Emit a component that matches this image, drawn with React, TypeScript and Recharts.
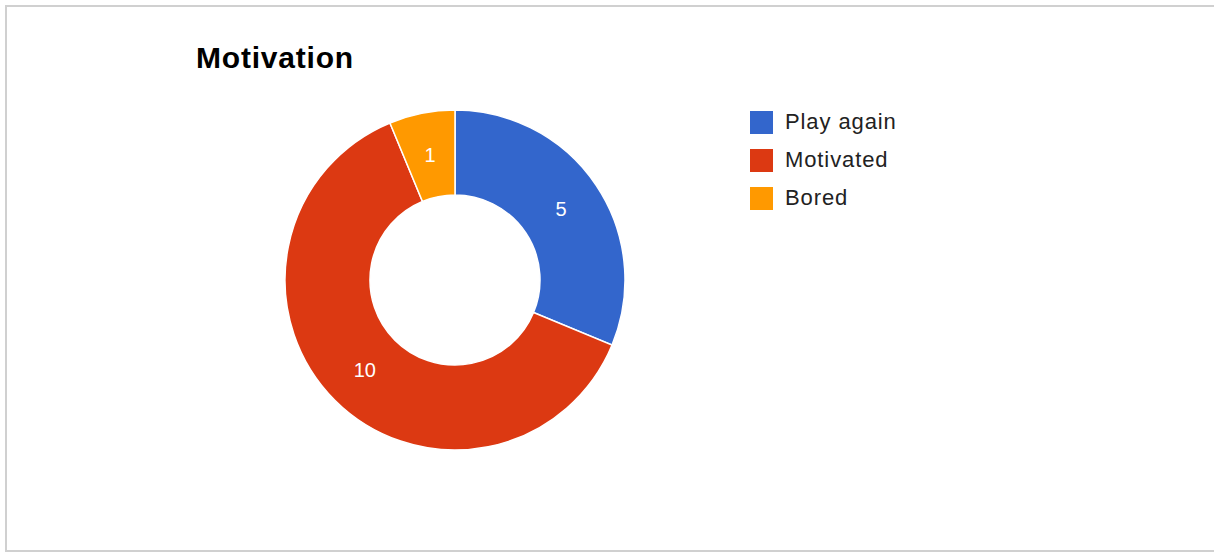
import React from 'react';
import { PieChart, Pie, Cell, Legend } from 'recharts';

const categories = ['Play again', 'Motivated', 'Bored'];
const values = [5, 10, 1];
const colors = ['#3366cc', '#dc3912', '#ff9900'];

const data = categories.map((name, i) => ({ name, value: values[i] }));

const RADIAN = Math.PI / 180;
const FONT = '"Liberation Sans", Arial, sans-serif';

const renderLabel = (props: any) => {
  const { cx, cy, midAngle, innerRadius, outerRadius, value } = props;
  const r = (innerRadius + outerRadius) / 2;
  const x = cx + r * Math.cos(-midAngle * RADIAN);
  const y = cy + r * Math.sin(-midAngle * RADIAN);
  return (
    <text x={x} y={y} fill="#ffffff" textAnchor="middle" dominantBaseline="central" fontSize={20} fontFamily={FONT}>
      {value}
    </text>
  );
};

const renderLegend = () => (
  <div style={{ fontFamily: FONT, fontSize: 22, color: '#222', letterSpacing: 0.9 }}>
    {categories.map((c, i) => (
      <div key={c} style={{ display: 'flex', alignItems: 'center', height: 38 }}>
        <div style={{ width: 23, height: 23, background: colors[i], marginRight: 12 }} />
        <span>{c}</span>
      </div>
    ))}
  </div>
);

export default function App() {
  return (
    <div style={{ position: 'absolute', left: 0, top: 0, width: 1214, height: 553, background: '#fff', overflow: 'hidden' }}>
      <div style={{ position: 'absolute', left: 5, top: 5, width: 1230, height: 543, border: '2px solid #d0d0d0', boxSizing: 'content-box' }} />
      <div style={{ position: 'absolute', left: 196, top: 40, fontFamily: FONT, fontWeight: 'bold', fontSize: 30, letterSpacing: 0.8, color: '#000', lineHeight: '36px' }}>
        Motivation
      </div>
      <div style={{ position: 'absolute', left: 0, top: 0 }}>
        <PieChart width={1214} height={553} margin={{ top: 0, right: 0, bottom: 0, left: 0 }}>
          <Pie
            data={data}
            dataKey="value"
            nameKey="name"
            cx={455}
            cy={280}
            innerRadius={85}
            outerRadius={170}
            startAngle={90}
            endAngle={-270}
            stroke="#ffffff"
            strokeWidth={1.5}
            label={renderLabel}
            labelLine={false}
            isAnimationActive={false}
          >
            {data.map((d, i) => (
              <Cell key={d.name} fill={colors[i]} />
            ))}
          </Pie>
          <Legend
            content={renderLegend}
            layout="vertical"
            wrapperStyle={{ position: 'absolute', left: 750, top: 103, width: 300 }}
          />
        </PieChart>
      </div>
    </div>
  );
}
